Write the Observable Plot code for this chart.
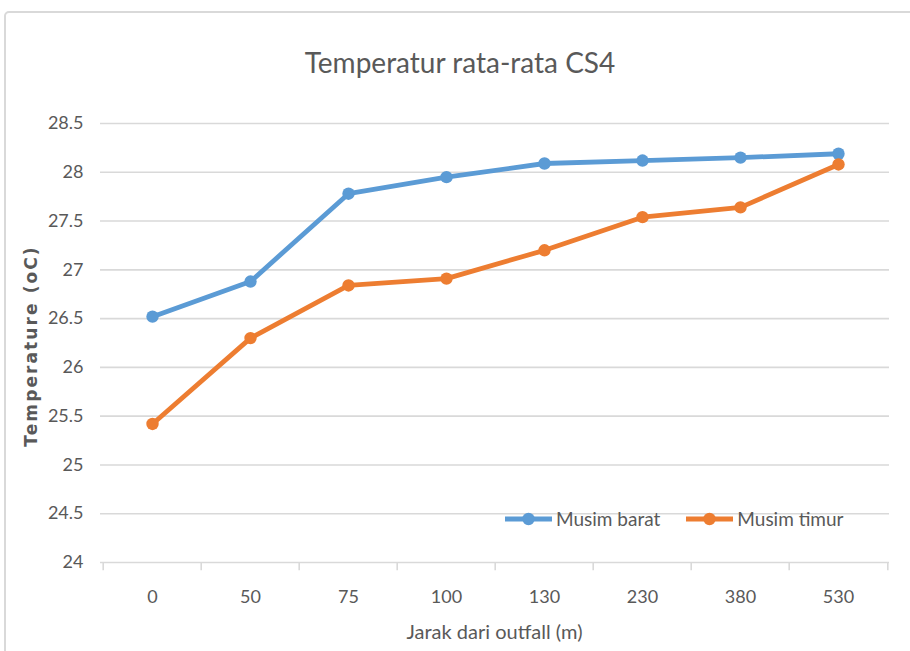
<!DOCTYPE html>
<html>
<head>
<meta charset="utf-8">
<script src="https://cdn.jsdelivr.net/npm/d3@7"></script>
<script src="https://cdn.jsdelivr.net/npm/@observablehq/plot@0.6"></script>
<style>
  html, body { margin: 0; padding: 0; background: #fff; }
  #wrap { position: relative; width: 910px; height: 651px; overflow: hidden; background: #fff; font-family: Lato, "Open Sans", sans-serif; color: #595959; }
  #frame { position: absolute; left: 4px; top: 11px; width: 1000px; height: 1000px; border: 2px solid #d9d9d9; border-radius: 5px; box-sizing: border-box; }
  #title { position: absolute; left: 5px; top: 42px; width: 910px; text-align: center; font-size: 28px; line-height: 40px; color: #595959; }
  #chart { position: absolute; left: 0; top: 100px; }
  #ytitle { position: absolute; left: 31px; top: 346px; transform: translate(-50%, -50%) rotate(-90deg); white-space: nowrap; font-family: "DejaVu Sans", sans-serif; font-weight: bold; font-size: 17px; letter-spacing: 2.1px; color: #595959; }
  #xtitle { position: absolute; left: 100px; width: 789px; top: 618px; text-align: center; font-size: 20px; line-height: 26px; color: #595959; }
  #legend { position: absolute; left: 505px; top: 507px; display: flex; align-items: center; font-size: 19px; line-height: 24px; color: #595959; }
  #legend .item { display: flex; align-items: center; }
  #legend svg { display: block; margin-right: 4px; }
</style>
</head>
<body>
<div id="wrap">
  <div id="frame"></div>
  <div id="title">Temperatur rata-rata CS4</div>
  <div id="chart"></div>
  <div id="ytitle">Temperature (oC)</div>
  <div id="xtitle">Jarak dari outfall (m)</div>
  <div id="legend"></div>
</div>
<script>
// ---- data ----
const categories = ["0", "50", "75", "100", "130", "230", "380", "530"];
const musimBarat = [26.52, 26.88, 27.78, 27.95, 28.09, 28.12, 28.15, 28.19];
const musimTimur = [25.42, 26.30, 26.84, 26.91, 27.20, 27.54, 27.64, 28.08];
const seriesNames = ["Musim barat", "Musim timur"];
const seriesColors = ["#5b9bd5", "#ed7d31"];
const yTicks = [24, 24.5, 25, 25.5, 26, 26.5, 27, 27.5, 28, 28.5];

// ---- build ----
const barat = categories.map((c, i) => ({dist: c, temp: musimBarat[i], series: seriesNames[0]}));
const timur = categories.map((c, i) => ({dist: c, temp: musimTimur[i], series: seriesNames[1]}));

const W = 910, H = 551;
const mL = 100, mR = 21, mT = 23, mB = 89;
const bw = (W - mL - mR) / categories.length;
const yMin = yTicks[0], yMax = yTicks[yTicks.length - 1];

const plot = Plot.plot({
  width: W,
  height: H,
  marginLeft: mL,
  marginRight: mR,
  marginTop: mT,
  marginBottom: mB,
  style: {fontFamily: "Lato, 'Open Sans', sans-serif", fontSize: "18px", color: "#595959", background: "transparent"},
  x: {type: "band", domain: categories, padding: 0, tickSize: 0, tickPadding: 28, label: null},
  y: {domain: [yMin, yMax], ticks: yTicks, tickFormat: d => String(d), tickSize: 0, tickPadding: 17, label: null},
  color: {domain: seriesNames, range: seriesColors},
  marks: [
    Plot.ruleY(yTicks, {stroke: "#d9d9d9", strokeWidth: 1.6}),
    Plot.ruleX(categories, {x: d => d, y1: () => yMin, y2: () => yMin - 0.085, stroke: "#d9d9d9", strokeWidth: 1.6, dx: -bw / 2}),
    Plot.ruleX(categories.slice(-1), {x: d => d, y1: () => yMin, y2: () => yMin - 0.085, stroke: "#d9d9d9", strokeWidth: 1.6, dx: bw / 2}),
    Plot.line(barat, {x: "dist", y: "temp", stroke: "series", strokeWidth: 4.8}),
    Plot.dot(barat, {x: "dist", y: "temp", fill: "series", r: 6.2}),
    Plot.line(timur, {x: "dist", y: "temp", stroke: "series", strokeWidth: 4.8}),
    Plot.dot(timur, {x: "dist", y: "temp", fill: "series", r: 6.2})
  ]
});
document.getElementById("chart").appendChild(plot);

// ---- legend ----
const legend = document.getElementById("legend");
seriesNames.forEach((name, i) => {
  const item = document.createElement("div");
  item.className = "item";
  if (i > 0) item.style.marginLeft = "26px";
  item.innerHTML = `<svg width="47" height="14"><line x1="0" y1="7" x2="47" y2="7" stroke="${seriesColors[i]}" stroke-width="4.8"/><circle cx="23.5" cy="7" r="6.2" fill="${seriesColors[i]}"/></svg><span>${name}</span>`;
  legend.appendChild(item);
});
</script>
</body>
</html>
